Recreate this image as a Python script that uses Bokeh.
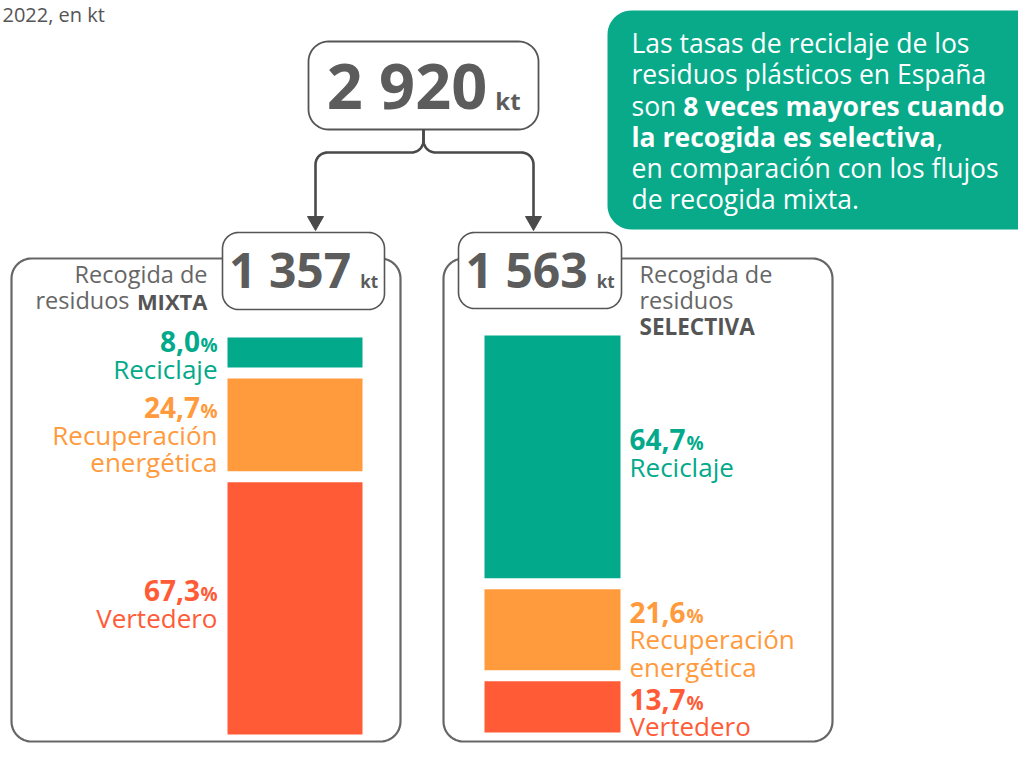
import math
import unicodedata
from bokeh.plotting import figure
from bokeh.models import Range1d
from bokeh.core.properties import value
from bokeh.embed import file_html
from bokeh.resources import INLINE

FONT = "Open Sans"

# ---------------- data ----------------
title_tail = "2022, en kt"
unit = "kt"
total_kt = "2 920"
stream_names = ["MIXTA", "SELECTIVA"]
stream_kt = ["1 357", "1 563"]
category_names = [["Reciclaje"], ["Recuperación", "energética"], ["Vertedero"]]
mixta_pct = [8.0, 24.7, 67.3]
selectiva_pct = [64.7, 21.6, 13.7]
category_colors = ["#02AA8B", "#FF9A3D", "#FF5B37"]
callout_lines = [
    [("Las tasas de reciclaje de los", False)],
    [("residuos plásticos en España", False)],
    [("son ", False), ("8 veces  mayores cuando", True)],
    [("la recogida es selectiva", True), (",", False)],
    [("en comparación con los flujos", False)],
    [("de recogida mixta.", False)],
]

# ---------------- styles ----------------
GRAY_TXT = "#666666"
GRAY_NUM = "#5C5C5C"
GRAY_LINE = "#666666"
ARROW = "#4A4A4A"
CALLOUT_BG = "#08AA8A"
BASE_SHIFT = 0.39  # empirical baseline correction of the svg text

REG = dict(zip(" abcdefghijklmnopqrstuvwxyz0123456789,.%",
               [0.26, 0.556, 0.613, 0.476, 0.613, 0.561, 0.339, 0.548, 0.614, 0.253, 0.253, 0.525, 0.253,
                0.930, 0.613, 0.604, 0.613, 0.613, 0.408, 0.477, 0.353, 0.613, 0.501, 0.778, 0.524, 0.502,
                0.462] + [0.572] * 10 + [0.245, 0.266, 0.823]))
BOLD = dict(zip(" abcdefghijklmnopqrstuvwxyz0123456789,.%",
                [0.26, 0.59, 0.633, 0.513, 0.633, 0.601, 0.389, 0.56, 0.648, 0.305, 0.305, 0.619, 0.305,
                 0.971, 0.648, 0.626, 0.633, 0.633, 0.459, 0.51, 0.423, 0.648, 0.577, 0.853, 0.59, 0.577,
                 0.5] + [0.572] * 10 + [0.283, 0.29, 0.864]))
CAPS_REG = {"L": 0.5, "E": 0.56, "R": 0.613, "V": 0.592, "M": 0.89, "I": 0.289, "X": 0.55, "T": 0.52,
            "A": 0.633, "S": 0.537, "C": 0.63}
CAPS_BOLD = {"L": 0.52, "E": 0.542, "R": 0.65, "V": 0.668, "M": 0.97, "I": 0.347, "X": 0.625, "T": 0.571,
             "A": 0.708, "S": 0.537, "C": 0.626}


def text_w(s, size, bold=False):
    t = BOLD if bold else REG
    caps = CAPS_BOLD if bold else CAPS_REG
    tot = 0.0
    for c in s:
        base = unicodedata.normalize("NFD", c)[0]
        if base in caps:
            tot += caps[base]
        else:
            tot += t.get(base, 0.58)
    return tot * size


W, H = 1018, 743
p = figure(width=W, height=H, x_range=Range1d(0, W), y_range=Range1d(H, 0),
           toolbar_location=None, output_backend="svg", min_border=0,
           x_axis_location=None, y_axis_location=None)
p.grid.visible = False
p.outline_line_color = None
p.background_fill_color = "white"
p.border_fill_color = "white"


def txt(x, y, s, size, color, bold=False, align="left"):
    p.text(x=[x], y=[y - BASE_SHIFT * size], text=[s], text_font=value(FONT),
           text_font_size=f"{size}px",
           text_font_style="bold" if bold else "normal", text_color=color,
           text_align=align, text_baseline="alphabetic")


def rrect(x0, y0, x1, y1, r, n=12):
    xs, ys = [], []
    corners = [(x0 + r, y0 + r, math.pi), (x1 - r, y0 + r, 1.5 * math.pi),
               (x1 - r, y1 - r, 0.0), (x0 + r, y1 - r, 0.5 * math.pi)]
    for cx, cy, a0 in corners:
        for k in range(n + 1):
            t = a0 + (math.pi / 2) * k / n
            xs.append(cx + r * math.cos(t))
            ys.append(cy + r * math.sin(t))
    return xs, ys


def arc(cx, cy, r, a0, a1, n=12):
    return ([cx + r * math.cos(a0 + (a1 - a0) * k / n) for k in range(n + 1)],
            [cy + r * math.sin(a0 + (a1 - a0) * k / n) for k in range(n + 1)])


def box(x0, y0, x1, y1, r, fill="white", line=GRAY_LINE, lw=2.0):
    xs, ys = rrect(x0, y0, x1, y1, r)
    p.patch(xs, ys, fill_color=fill, line_color=line, line_width=lw)


def fmt_pct(v):
    return f"{v:.1f}".replace(".", ",")


# ---------------- title fragment ----------------
txt(2, 22, title_tail, 20, "#555555")

# ---------------- callout ----------------
xs, ys = rrect(607, 10, 1050, 229, 24)
p.patch(xs, ys, fill_color=CALLOUT_BG, line_color=None)
CS = 26.5
for i, frags in enumerate(callout_lines):
    x = 631
    y = 53 + 31.2 * i
    for s, b in frags:
        txt(x, y, s, CS, "white", bold=b)
        x += text_w(s, CS, b)

# ---------------- top total box ----------------
box(308, 41, 538, 129, 20, lw=1.8, line="#555555")
cx = 423
wn = text_w(total_kt, 63, True)
wk = text_w(unit, 24, True)
x0 = cx - (wn + 8 + wk) / 2
txt(x0, 109, total_kt, 63, GRAY_NUM, bold=True)
txt(x0 + wn + 8, 109, unit, 24, GRAY_NUM, bold=True)

# ---------------- bracket & arrows ----------------
bx, by = [423, 423], [129, 140]
ax_, ay_ = arc(411, 140, 12, 0, math.pi / 2)
bx += ax_; by += ay_
ax_, ay_ = arc(327, 164, 12, -math.pi / 2, -math.pi)
bx += ax_; by += ay_
bx += [315]; by += [217]
p.line(bx, by, line_color=ARROW, line_width=2.6)
bx, by = [423, 423], [129, 140]
ax_, ay_ = arc(435, 140, 12, math.pi, math.pi / 2)
bx += ax_; by += ay_
ax_, ay_ = arc(521, 164, 12, -math.pi / 2, 0)
bx += ax_; by += ay_
bx += [533]; by += [217]
p.line(bx, by, line_color=ARROW, line_width=2.6)
for axx in (315, 533):
    p.patch([axx - 8, axx + 8, axx], [216, 216, 230], fill_color=ARROW, line_color=ARROW, line_width=1)

# ---------------- panels ----------------
panels = [
    dict(pct=mixta_pct, box=(11, 258, 400, 741), kbox=(222, 232, 384, 309),
         bar=(227, 362), bar_top=337, lab_x=217, lab_align="right"),
    dict(pct=selectiva_pct, box=(443, 258, 832, 741), kbox=(458, 232, 621, 308),
         bar=(484, 620), bar_top=335, lab_x=629, lab_align="left"),
]
PX_PER_PCT = 3.75
GAP = 11
GS = 23.5

for i, pan in enumerate(panels):
    bx0, by0, bx1, by1 = pan["box"]
    box(bx0, by0, bx1, by1, 20, lw=2.2)
    kx0, ky0, kx1, ky1 = pan["kbox"]
    box(kx0, ky0, kx1, ky1, 16, lw=1.6, line="#555555")
    kc = (kx0 + kx1) / 2
    wn = text_w(stream_kt[i], 48, True)
    wk = text_w(unit, 17, True)
    sx = kc - (wn + 9 + wk) / 2
    txt(sx, 288, stream_kt[i], 48, GRAY_NUM, bold=True)
    txt(sx + wn + 9, 288, unit, 17, GRAY_NUM, bold=True)

    # stream label
    if i == 0:
        txt(207, 283, "Recogida de", GS, GRAY_TXT, align="right")
        txt(207, 309, stream_names[0], 22, "#555555", bold=True, align="right")
        txt(207 - text_w(stream_names[0], 22, True) - 1, 309, "residuos ", GS, GRAY_TXT, align="right")
    else:
        txt(639, 283, "Recogida de", GS, GRAY_TXT)
        txt(639, 309, "residuos", GS, GRAY_TXT)
        txt(639, 335, stream_names[1], 22.5, "#555555", bold=True)

    # stacked bar from data
    tops, bots = [], []
    y = pan["bar_top"]
    for v in pan["pct"]:
        tops.append(y)
        y = y + v * PX_PER_PCT
        bots.append(y)
        y = y + GAP
    l, r = pan["bar"]
    p.quad(left=[l] * 3, right=[r] * 3, top=tops, bottom=bots, fill_color=category_colors,
           line_color=None)

    # labels
    prev_last = -1e9
    for j, v in enumerate(pan["pct"]):
        center = (tops[j] + bots[j]) / 2
        b = max(center - 6.5, tops[j] + 15, prev_last + 33)
        col = category_colors[j]
        num = fmt_pct(v)
        wpct = text_w("%", 19, True)
        if pan["lab_align"] == "right":
            txt(pan["lab_x"], b, "%", 19, col, bold=True, align="right")
            txt(pan["lab_x"] - wpct - 1, b, num, 28, col, bold=True, align="right")
        else:
            txt(pan["lab_x"], b, num, 28, col, bold=True)
            txt(pan["lab_x"] + text_w(num, 28, True) + 1, b, "%", 19, col, bold=True)
        last = b
        for k, name in enumerate(category_names[j]):
            last = b + 26.5 + 27.5 * k
            txt(pan["lab_x"], last, name, 26, col, align=pan["lab_align"])
        prev_last = last

open("out.html", "w").write(file_html(p, INLINE))
